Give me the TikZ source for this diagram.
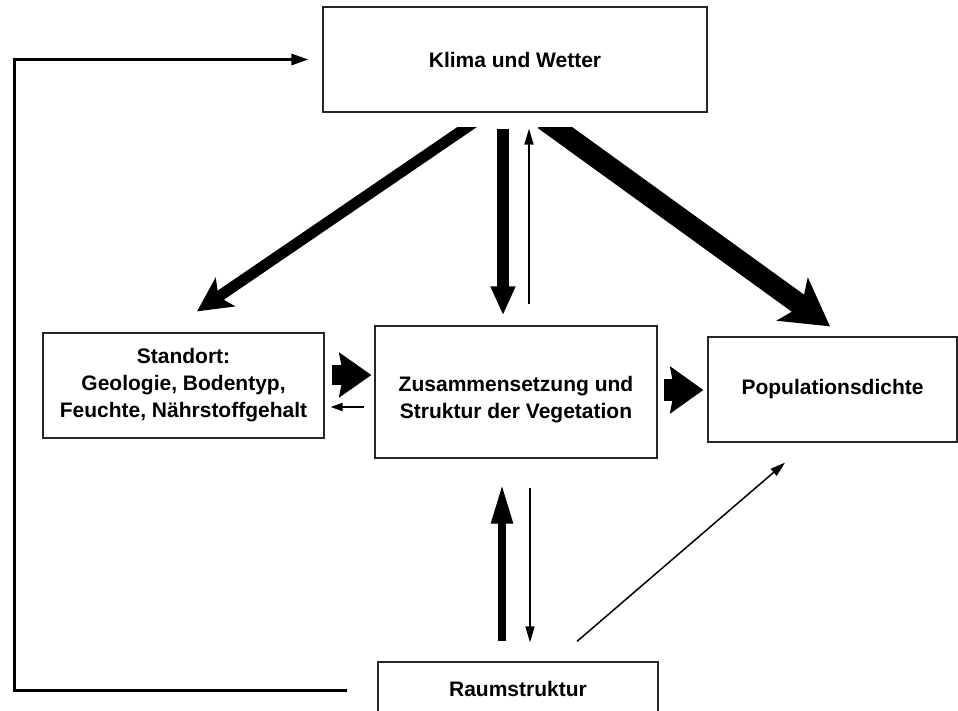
\documentclass[tikz,border=0pt]{standalone}
\usepackage{fontspec}
\setmainfont{Liberation Sans}
\usetikzlibrary{arrows.meta,calc}
\begin{document}
\begin{tikzpicture}[x=1pt,y=-1pt,
  box/.style={draw=black!85,line width=1.2pt,inner sep=0pt,align=center,
    font=\fontsize{21}{27}\selectfont\bfseries},
  arr/.style={draw=black,line cap=butt},
  thinarrow/.style={arr,line width=1.6pt,-{Triangle[length=16pt,width=9pt]}},
  feedback/.style={arr,line width=3pt,line join=miter,-{Triangle[length=17pt,width=11pt]}}]
\useasboundingbox[fill=white] (0,0) rectangle (958,710);

\node[box,minimum width=384pt,minimum height=105pt] (klima) at (515,59.5) {Klima und Wetter};
\node[box,minimum width=281pt,minimum height=105pt] (std) at (183.5,385.5) {Standort:\\Geologie, Bodentyp,\\Feuchte, Nährstoffgehalt};
\node[box,minimum width=282pt,minimum height=132pt] (zus) at (516,392) {\rule{0pt}{30pt}Zusammensetzung und\\Struktur der Vegetation};
\node[box,minimum width=249pt,minimum height=105pt] (pop) at (832.5,389.5) {Populationsdichte};
\node[box,minimum width=280pt,minimum height=54pt] (raum) at (518,689) {Raumstruktur};

% diagonal arrows from Klima, cut flat at the top
\begin{scope}
\clip (0,127) rectangle (958,710);
\draw[arr,line width=11pt,-{Stealth[length=34pt,width=34pt,inset=8pt]}]
  ($(klima.south)+(-37,7)$) -- ($(std.north)+(13.5,-21)$);
\draw[arr,line width=21pt,-{Stealth[length=46pt,width=52pt,inset=11pt]}]
  ($(klima.south)+(29,7)$) -- ($(pop.north)+(-2.5,-10)$);
\end{scope}

% Klima <-> Vegetation
\draw[arr,line width=12pt,-{Triangle[length=29pt,width=23pt]}]
  ($(klima.south)+(-12,16)$) -- ($(zus.north)+(-13,-10)$);
\draw[thinarrow] ($(zus.north)+(13,-21)$) -- ($(klima.south)+(14,16)$);

% Standort <-> Vegetation
\draw[arr,line width=20pt,-{Stealth[length=32pt,width=44pt,inset=4pt]}]
  ($(std.east)+(7,-10.5)$) -- ($(zus.west)+(-3,-17)$);
\draw[arr,line width=1.8pt,-{Triangle[length=12pt,width=8pt]}]
  ($(zus.west)+(-10,15)$) -- ($(std.east)+(6,21.5)$);

% Vegetation -> Population
\draw[arr,line width=22pt,-{Stealth[length=33pt,width=46pt,inset=4pt]}]
  ($(zus.east)+(6,-2)$) -- ($(pop.west)+(-4,0.5)$);

% Raumstruktur <-> Vegetation
\draw[arr,line width=8pt,-{Triangle[length=40pt,width=20pt]}]
  ($(raum.north)+(-16,-20)$) -- ($(zus.south)+(-14,25)$);
\draw[thinarrow,line width=1.5pt] ($(zus.south)+(14,29)$) -- ($(raum.north)+(12,-19)$);

% Raumstruktur -> Population
\draw[thinarrow,line width=1.5pt,-{Triangle[length=15pt,width=9pt]}]
  ($(raum.north)+(59,-20)$) -- ($(pop.south)+(-47.5,20)$);

% feedback Raumstruktur -> Klima
\draw[feedback] ($(raum.west)+(-30,1)$) -- ++(-333,0) |- ($(klima.west)+(-14,0)$);
\end{tikzpicture}
\end{document}
